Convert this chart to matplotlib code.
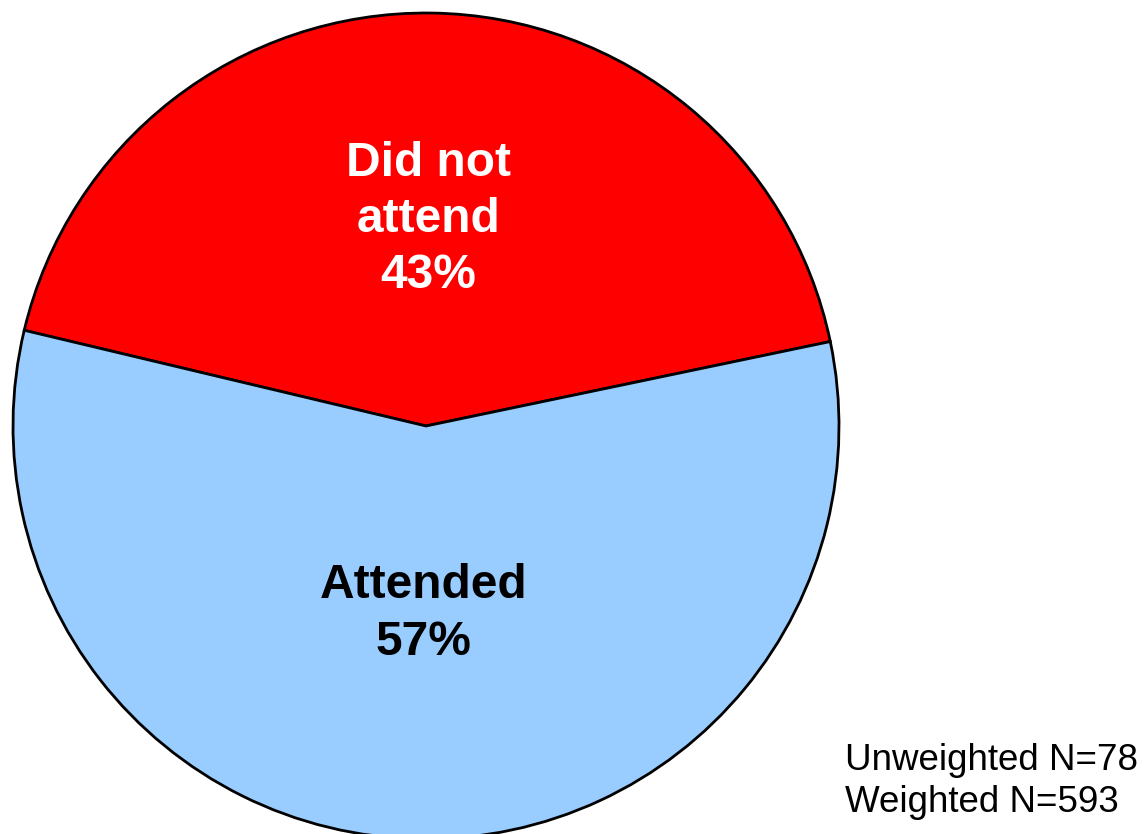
import matplotlib.pyplot as plt

plt.rcParams['font.family'] = ['Liberation Sans', 'DejaVu Sans']

# attendance shares
labels = ["Did not\nattend", "Attended"]
shares = [43, 57]
colors = ["#FF0000", "#99CCFF"]
text_colors = ["white", "black"]
unweighted_n = 78
weighted_n = 593

fig = plt.figure(figsize=(11.44, 8.34), dpi=100)
W, H = 1144, 834
cx, cy, r = 426, 834 - 426, 413
ax = fig.add_axes([(cx - r) / W, (cy - r) / H, 2 * r / W, 2 * r / H])

wedges, _ = ax.pie(shares, colors=colors, startangle=11.8, counterclock=True,
                   radius=1, wedgeprops=dict(edgecolor="black", linewidth=2))
ax.set_xlim(-1, 1)
ax.set_ylim(-1, 1)
ax.set_aspect("equal")
ax.axis("off")

# label positions inside each slice
label_pos = [(0.005, 0.5), (-0.005, -0.455)]
for lab, val, col, (x, y) in zip(labels, shares, text_colors, label_pos):
    ax.text(x, y, f"{lab}\n{val}%", ha="center", va="center", color=col,
            fontsize=34.5, fontweight="bold", linespacing=1.32)

fig.text(845 / W, 1 - 743 / H,
         f"Unweighted N={unweighted_n}\nWeighted N={weighted_n}",
         ha="left", va="top", fontsize=26.5, linespacing=1.27)

fig.savefig("out.png", dpi=100)
